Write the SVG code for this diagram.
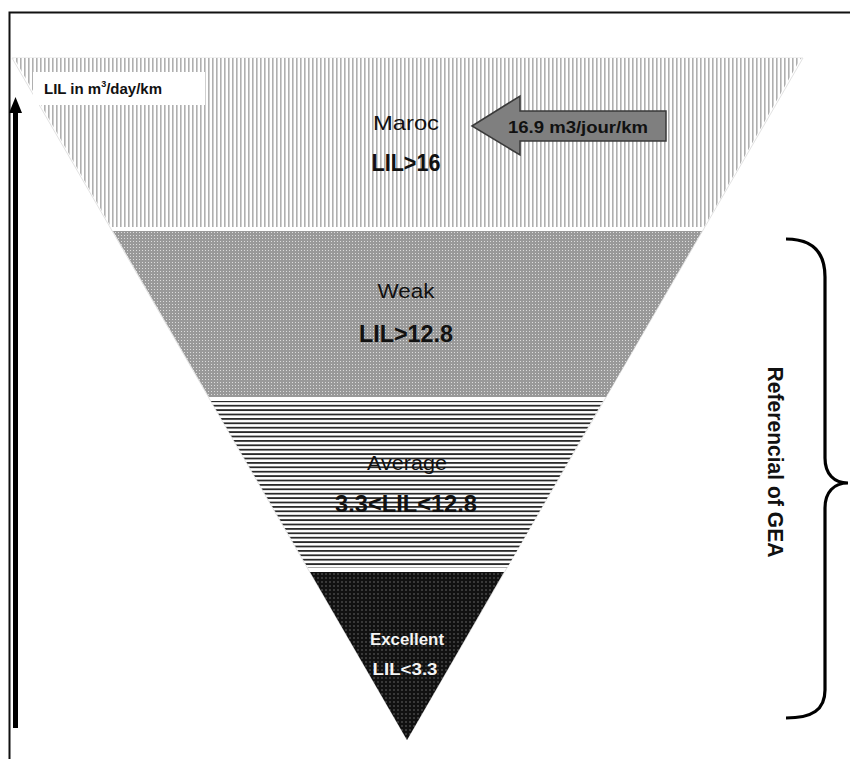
<svg xmlns="http://www.w3.org/2000/svg" width="850" height="759" viewBox="0 0 850 759">
<defs>
<pattern id="pVert" width="4" height="4" patternUnits="userSpaceOnUse"><rect width="4" height="4" fill="#ffffff"/><rect x="0" y="0" width="1.6" height="4" fill="#b0b0b0"/></pattern>
<pattern id="pDotGray" width="3" height="3" patternUnits="userSpaceOnUse"><rect width="3" height="3" fill="#999999"/><rect x="1" y="1" width="1" height="1" fill="#dcdcdc"/></pattern>
<pattern id="pHoriz" width="4" height="4.4" patternUnits="userSpaceOnUse"><rect width="4" height="4.4" fill="#ffffff"/><rect x="0" y="0" width="4" height="1.8" fill="#2a2a2a"/></pattern>
<pattern id="pDotBlack" width="4" height="4" patternUnits="userSpaceOnUse"><rect width="4" height="4" fill="#111111"/><rect x="1.5" y="1.5" width="1" height="1" fill="#b0b0b0"/></pattern>
</defs>
<style>
text{font-family:"Liberation Sans",Arial,sans-serif;text-anchor:middle;fill:#111}
.reg{font-weight:normal}
.b{font-weight:bold}
.w{fill:#f4f4f4}
</style>
<rect width="850" height="759" fill="#ffffff"/>
<rect x="9.5" y="12.5" width="900" height="800" fill="none" stroke="#111" stroke-width="2"/>

<polygon points="12,58 803,58 407,740" fill="none" stroke="#e2e2e2" stroke-width="1"/>

<g id="node-maroc">
<polygon points="14,58 801,58 704,227 111,227" fill="url(#pVert)"/>
<text x="406" y="130" class="reg" font-size="21" textLength="66" lengthAdjust="spacingAndGlyphs">Maroc</text>
<text x="406" y="171" class="b" font-size="23" textLength="69" lengthAdjust="spacingAndGlyphs">LIL&gt;16</text>
</g>
<g id="node-weak">
<polygon points="113,231 702,231 606,397 209,397" fill="url(#pDotGray)"/>
<text x="406" y="298" class="reg" font-size="20" textLength="57" lengthAdjust="spacingAndGlyphs">Weak</text>
<text x="406" y="342" class="b" font-size="23" textLength="94" lengthAdjust="spacingAndGlyphs">LIL&gt;12.8</text>
</g>
<g id="node-average">
<polygon points="211,401 603,401 507,568 308,568" fill="url(#pHoriz)"/>
<text x="407" y="470" class="reg" font-size="20" textLength="80" lengthAdjust="spacingAndGlyphs">Average</text>
<text x="406" y="512" class="b" font-size="23" textLength="142" lengthAdjust="spacingAndGlyphs">3.3&lt;LIL&lt;12.8</text>
</g>
<g id="node-excellent">
<polygon points="310,572 504,572 407,740" fill="url(#pDotBlack)"/>
<text x="407" y="645" class="b w" font-size="17" textLength="74" lengthAdjust="spacingAndGlyphs">Excellent</text>
<text x="405" y="675" class="b w" font-size="17" textLength="65" lengthAdjust="spacingAndGlyphs">LIL&lt;3.3</text>
</g>

<g id="node-axis-label">
<rect x="33" y="72" width="172" height="33" fill="#ffffff"/>
<text x="44" y="94" class="b" font-size="15" style="text-anchor:start" textLength="118" lengthAdjust="spacingAndGlyphs">LIL in m<tspan font-size="9" dy="-7">3</tspan><tspan dy="7">/day/km</tspan></text>
</g>

<g id="node-value">
<polygon points="472,126 520,96 520,111 666,111 666,141 520,141 520,155" fill="#7f7f7f" stroke="#3a3a3a" stroke-width="1.5"/>
<text x="578" y="133" class="b" font-size="16" textLength="140" lengthAdjust="spacingAndGlyphs">16.9 m3/jour/km</text>
</g>

<g id="node-referencial">
<rect x="768" y="318" width="44" height="287" fill="#ffffff"/>
<text transform="translate(768,462) rotate(90)" x="0" y="0" class="b" font-size="22" textLength="191" lengthAdjust="spacingAndGlyphs">Referencial of GEA</text>
</g>

<g id="connectors">
<line x1="15.5" y1="728" x2="15.5" y2="111" stroke="#000" stroke-width="5"/>
<polygon points="15.5,97 9,113 22,113" fill="#000"/>
<path d="M786,239 C812,239 825,252 825,277 L825,458 C825,474 834,483 848,483 C834,483 825,492 825,508 L825,690 C825,710 812,718 786,718" fill="none" stroke="#000" stroke-width="3.2"/>
</g>
</svg>
